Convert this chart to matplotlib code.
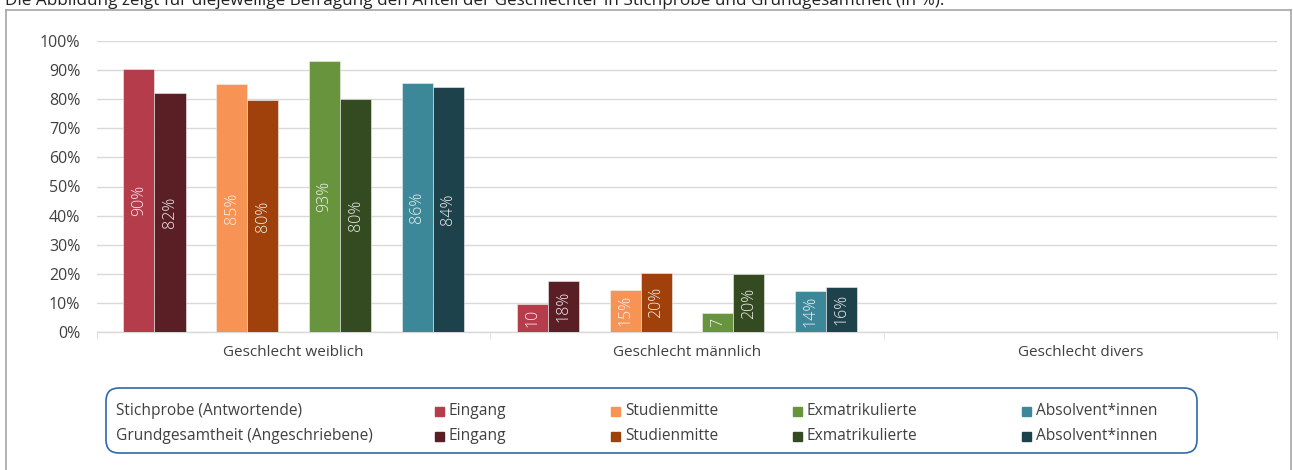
import numpy as np
import matplotlib
matplotlib.use("Agg")
from matplotlib import pyplot as plt
from matplotlib.patches import FancyBboxPatch, Rectangle
from matplotlib.lines import Line2D
from matplotlib.transforms import IdentityTransform

plt.rcParams['font.family'] = ['Open Sans', 'DejaVu Sans']

# data
categories = ['Geschlecht weiblich', 'Geschlecht männlich', 'Geschlecht divers']
groups = ['Eingang', 'Studienmitte', 'Exmatrikulierte', 'Absolvent*innen']
# Stichprobe (Antwortende), one list per group: weiblich, männlich, divers
sample = [[90.4, 9.6, 0.0],
          [85.2, 14.6, 0.0],
          [93.1, 6.7, 0.0],
          [85.6, 14.1, 0.0]]
# Grundgesamtheit (Angeschriebene)
population = [[82.3, 17.6, 0.0],
              [79.6, 20.3, 0.0],
              [79.9, 19.9, 0.0],
              [84.2, 15.5, 0.0]]
sample_colors = ['#b43c4b', '#f79455', '#68943e', '#3c8898']
pop_colors = ['#5a1e25', '#a0400a', '#344b21', '#1e424c']
row_labels = ['Stichprobe (Antwortende)', 'Grundgesamtheit (Angeschriebene)']

W, H = 1293, 470
fig = plt.figure(figsize=(W / 100, H / 100), dpi=100)
ax = fig.add_axes([97 / W, 1 - 332 / H, 1180 / W, 291 / H])

x = np.arange(len(categories))
bw = 0.079
offsets = [-0.354, -0.118, 0.118, 0.354]


def label_text(v):
    if v < 0.5:
        return ''
    # short bars: the % sign does not fit
    if v < 12:
        return '%d' % round(v)
    return '%d%%' % round(v)


for i in range(len(groups)):
    for vals, col, shift in [(sample[i], sample_colors[i], -bw / 2),
                             (population[i], pop_colors[i], bw / 2)]:
        pos = x + offsets[i] + shift
        ax.bar(pos, vals, width=bw, color=col, edgecolor='#f2f2f2',
               linewidth=0.4, zorder=3)
        for p, v in zip(pos, vals):
            t = label_text(v)
            if t:
                ax.text(p, v / 2, t, rotation=90, ha='center', va='center',
                        color='#f2f2f2', fontsize=11.5, fontweight='light',
                        zorder=4)

ax.set_xlim(-0.5, 2.5)
ax.set_ylim(0, 100)
ax.set_yticks(np.arange(0, 101, 10))
ax.set_yticklabels(['%d%%' % v for v in range(0, 101, 10)])
ax.set_xticks(x)
ax.set_xticklabels(categories)
ax.set_xticks([-0.5, 0.5, 1.5, 2.5], minor=True)
ax.tick_params(axis='y', length=0, pad=12, labelsize=11.5, labelcolor='#404040')
ax.tick_params(axis='x', which='major', length=0, pad=9, labelsize=11,
               labelcolor='#404040')
ax.tick_params(axis='x', which='minor', length=5, color='#d9d9d9')
ax.grid(axis='y', color='#d9d9d9', linewidth=1, zorder=0)
for s in ['top', 'right', 'left']:
    ax.spines[s].set_visible(False)
ax.spines['bottom'].set_color('#d9d9d9')
ax.spines['bottom'].set_linewidth(1)

# title cut at the top and outer frame
fig.text(5 / W, 1 - 5 / H,
         'Die Abbildung zeigt für diejeweilige Befragung den Anteil der Geschlechter '
         'in Stichprobe und Grundgesamtheit (in %).',
         ha='left', va='baseline', fontsize=12.3, color='#202020')
fc = '#a6a6a6'
fig.add_artist(Line2D([6 / W, 1291 / W], [1 - 9.5 / H, 1 - 9.5 / H],
                      transform=fig.transFigure, color=fc, lw=1.2))
fig.add_artist(Line2D([6 / W, 6 / W], [1 - 9.5 / H, 0],
                      transform=fig.transFigure, color=fc, lw=1.2))
fig.add_artist(Line2D([1291 / W, 1291 / W], [1 - 9.5 / H, 0],
                      transform=fig.transFigure, color=fc, lw=1.2))

# legend box, in pixels
box = FancyBboxPatch((106, H - 453), 1091, 65,
                     boxstyle='round,pad=0,rounding_size=13',
                     transform=IdentityTransform(), fill=False,
                     edgecolor='#2e6aa8', lw=1.2)
fig.add_artist(box)
row_y = [411, 436]
sq_x = [435, 611, 793, 1022]
for r, lab in enumerate(row_labels):
    fig.text(116 / W, 1 - row_y[r] / H, lab, ha='left', va='center',
             fontsize=11.2, color='#404040')
    cols = sample_colors if r == 0 else pop_colors
    for g in range(len(groups)):
        fig.add_artist(Rectangle((sq_x[g] / W, 1 - (row_y[r] + 5) / H),
                                 9 / W, 9 / H, transform=fig.transFigure,
                                 color=cols[g]))
        fig.text((sq_x[g] + 14) / W, 1 - row_y[r] / H, groups[g],
                 ha='left', va='center', fontsize=11.2, color='#404040')

fig.savefig('out.png', dpi=100)
